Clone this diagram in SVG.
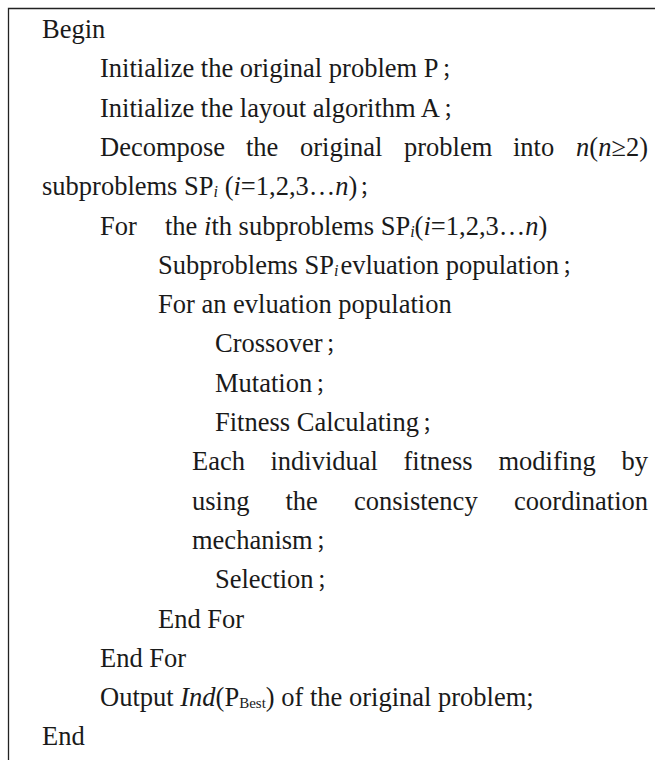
<svg xmlns="http://www.w3.org/2000/svg" width="655" height="760" viewBox="0 0 655 760">
<style>
text{font-family:"Liberation Serif","Noto Sans CJK SC",serif;font-size:26.5px;fill:#1a1a1a}
.i{font-style:italic}
.sub{font-size:16px;font-style:italic}
.sb{font-size:15px}
.sc{font-family:"Noto Sans CJK SC","Liberation Serif",sans-serif;font-size:20px}
.frame{fill:none;stroke:#222;stroke-width:1.3}
</style>
<rect width="655" height="760" fill="#fff"/>
<g id="frame"><path class="frame" d="M8.5,760 V8.5 H655"/></g>
<g id="code">
<text x="42" y="38">Begin</text>
<text x="100" y="77.3">Initialize the original problem P<tspan class="sc" dx="3">；</tspan></text>
<text x="100" y="116.6">Initialize the layout algorithm A<tspan class="sc" dx="3">；</tspan></text>
<text y="155.9"><tspan x="100">Decompose</tspan><tspan x="246">the</tspan><tspan x="300">original</tspan><tspan x="404">problem</tspan><tspan x="513">into</tspan></text>
<text x="648" y="155.9" text-anchor="end"><tspan class="i">n</tspan>(<tspan class="i">n</tspan>≥2)</text>
<text x="42" y="195.2">subproblems SP<tspan class="sub" dy="2">i</tspan><tspan dy="-2"> (</tspan><tspan class="i">i</tspan>=1,2,3…<tspan class="i">n</tspan>)<tspan class="sc" dx="2">；</tspan></text>
<text y="234.5"><tspan x="100">For</tspan><tspan x="165">the </tspan><tspan class="i">i</tspan>th subproblems SP<tspan class="sub" dy="2">i</tspan><tspan dy="-2">(</tspan><tspan class="i">i</tspan>=1,2,3…<tspan class="i">n</tspan>)</text>
<text x="158" y="273.8">Subproblems SP<tspan class="sub" dy="2">i</tspan><tspan dy="-2" dx="2">evluation population</tspan><tspan class="sc" dx="3">；</tspan></text>
<text x="158" y="313.1">For an evluation population</text>
<text x="215" y="352.4">Crossover<tspan class="sc" dx="3">；</tspan></text>
<text x="215" y="391.7">Mutation<tspan class="sc" dx="3">；</tspan></text>
<text x="215" y="431">Fitness Calculating<tspan class="sc" dx="3">；</tspan></text>
<text y="470.3"><tspan x="192">Each</tspan><tspan x="270.5">individual</tspan><tspan x="403.5">fitness</tspan><tspan x="498.5">modifing</tspan><tspan x="621.5">by</tspan></text>
<text y="509.6"><tspan x="192">using</tspan><tspan x="285.5">the</tspan><tspan x="354">consistency</tspan></text>
<text x="648" y="509.6" text-anchor="end">coordination</text>
<text x="192" y="548.9">mechanism<tspan class="sc" dx="3">；</tspan></text>
<text x="215" y="588.2">Selection<tspan class="sc" dx="3">；</tspan></text>
<text x="158" y="627.5">End For</text>
<text x="100" y="666.8">End For</text>
<text x="100" y="706.1">Output <tspan class="i">Ind</tspan>(P<tspan class="sb" dy="2">Best</tspan><tspan dy="-2">) of the original problem;</tspan></text>
<text x="42" y="745.4">End</text>
</g>
</svg>
